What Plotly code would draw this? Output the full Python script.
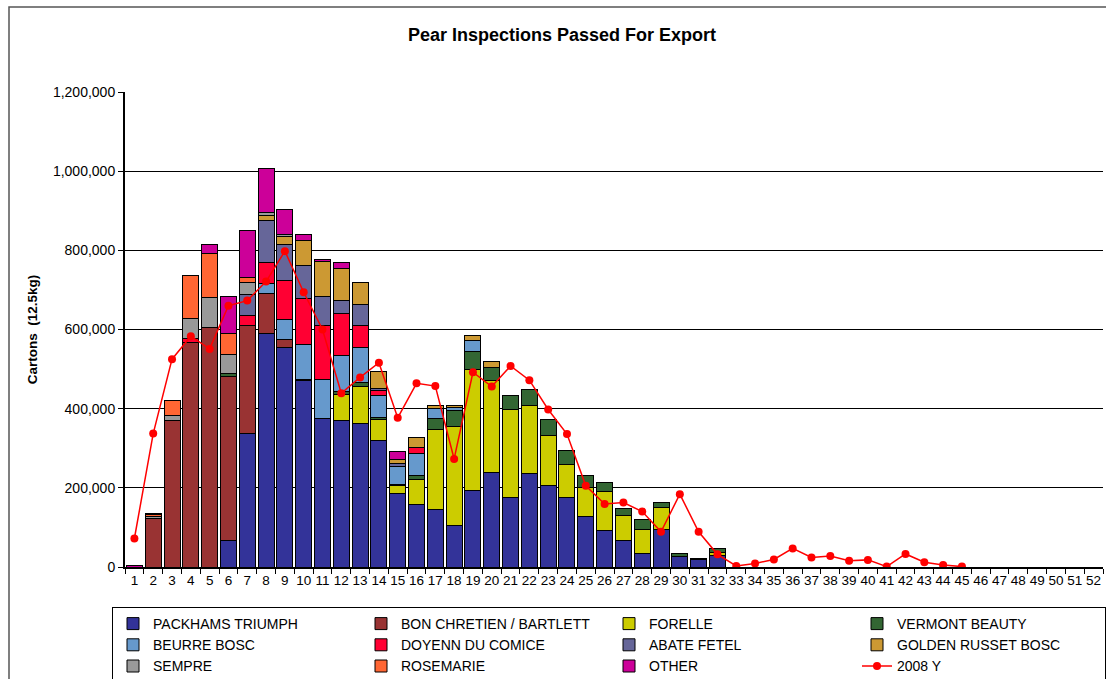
import plotly.graph_objects as go

weeks = [str(i) for i in range(1, 53)]

def pad(vals):
    return vals + [0] * (52 - len(vals))

# values for weeks 1..32 (zero afterwards)
packhams = pad([0, 0, 0, 0, 0, 68000, 338000, 590000, 555000, 471000, 376000, 369000, 363000, 319000, 185000, 158000,
                146000, 106000, 193000, 239000, 176000, 237000, 207000, 176000, 127000, 91000, 68000, 33000, 96000, 26000, 19000, 29000])
bon_chretien = pad([0, 123000, 370000, 567000, 605000, 414000, 273000, 101000, 20000, 3000])
forelle = pad([0, 0, 0, 0, 0, 0, 0, 0, 0, 0, 0, 66000, 92000, 54000, 20000, 63000,
               202000, 248000, 306000, 233000, 222000, 170000, 126000, 84000, 73000, 101000, 63000, 63000, 55000, 0, 0, 7500])
vermont = pad([0, 0, 0, 0, 0, 6000, 0, 0, 0, 0, 0, 8000, 10000, 5000, 3000, 11000,
               28000, 42000, 46000, 31000, 35000, 41000, 40000, 34000, 31000, 21000, 18000, 24500, 12500, 7000, 3000, 11000])
beurre_bosc = pad([0, 0, 0, 0, 0, 0, 0, 25000, 51000, 88000, 98000, 91000, 89000, 56000, 47000, 56000, 25000, 7000, 26000])
doyenn = pad([0, 0, 0, 11000, 0, 0, 24500, 53000, 97000, 116000, 136000, 107000, 56000, 12000, 0, 13000])
abate = pad([0, 0, 0, 0, 0, 0, 52000, 107000, 93000, 83000, 74000, 32000, 53000, 4000, 6000])
golden = pad([0, 0, 0, 0, 0, 0, 0, 12600, 20000, 64000, 87000, 82000, 56000, 45000, 10000, 25000, 8000, 5000, 13000, 15000])
sempre = pad([0, 4000, 12000, 49000, 77000, 49000, 32000, 8000, 5000])
rosemarie = pad([0, 6000, 39000, 109000, 111000, 54000, 13000])
other = pad([5000, 2000, 0, 0, 22000, 93000, 117000, 110000, 62000, 14000, 7000, 15000, 0, 0, 21000])

y2008 = [72000, 337000, 525000, 583000, 551000, 660000, 673000, 721000, 798000, 694000, 600000, 439000, 479000, 516000,
         377000, 464000, 457000, 273000, 492000, 456000, 508000, 472000, 398000, 336000, 205000, 159000, 163000, 140000,
         89000, 184000, 89000, 32000, 2500, 9000, 19000, 47000, 24000, 28000, 16000, 18000, 1000, 33000, 12000, 5000, 1000]
y2008 = y2008 + [None] * (52 - len(y2008))

series = [
    ("PACKHAMS TRIUMPH", packhams, "#333399"),
    ("BON CHRETIEN / BARTLETT", bon_chretien, "#993333"),
    ("FORELLE", forelle, "#CCCC00"),
    ("VERMONT BEAUTY", vermont, "#336633"),
    ("BEURRE BOSC", beurre_bosc, "#6699CC"),
    ("DOYENN DU COMICE", doyenn, "#FF0033"),
    ("ABATE FETEL", abate, "#666699"),
    ("GOLDEN RUSSET BOSC", golden, "#CC9933"),
    ("SEMPRE", sempre, "#999999"),
    ("ROSEMARIE", rosemarie, "#FF6633"),
    ("OTHER", other, "#CC0099"),
]

FONT = "Liberation Sans, Arial, sans-serif"

fig = go.Figure()
for name, vals, col in series:
    fig.add_trace(go.Bar(x=weeks, y=vals, name=name, marker=dict(color=col, line=dict(color="black", width=1))))

fig.add_trace(go.Scatter(x=weeks, y=y2008, name="2008 Y", mode="lines+markers",
                         line=dict(color="#FF0000", width=1.5),
                         marker=dict(color="#FF0000", size=8), connectgaps=False))

W, H = 1106, 679
L, R, T = 125, 3, 92
B = H - 567
pw = W - L - R
ph = H - T - B

def sx(px):  # screen x -> paper x
    return (px - L) / pw

def sy(py):  # screen y -> paper y
    return (H - B - py) / ph

fig.update_layout(
    width=W, height=H,
    barmode="stack", bargap=0.15,
    margin=dict(l=L, r=R, t=T, b=B, autoexpand=False),
    paper_bgcolor="white", plot_bgcolor="white",
    font=dict(family=FONT, size=13, color="black"),
    title=dict(text="<b>Pear Inspections Passed For Export</b>", x=sx(562), xref="paper", xanchor="center",
               y=1 - 35 / H, yref="container", yanchor="middle", font=dict(size=18, family=FONT)),
    legend=dict(orientation="h", x=sx(112), xanchor="left", y=sy(607), yanchor="top",
                bordercolor="black", borderwidth=1, bgcolor="white",
                entrywidth=203, entrywidthmode="pixels", traceorder="normal",
                font=dict(size=14, family=FONT)),
    shapes=[dict(type="rect", xref="paper", yref="paper",
                 x0=sx(9), x1=sx(1120), y0=sy(700), y1=sy(7),
                 line=dict(color="#555555", width=1.5), layer="below")],
)

fig.update_xaxes(type="category", categoryorder="array", categoryarray=weeks, range=[-0.5, 51.5],
                 showline=True, linecolor="black", linewidth=2, ticks="outside", ticklen=5, tickcolor="black",
                 tickson="boundaries", showgrid=False, tickfont=dict(size=13.5), tickangle=0, automargin=False)
fig.update_yaxes(range=[0, 1200000], dtick=200000, tickformat=",", showline=True, linecolor="black", linewidth=2,
                 ticks="outside", ticklen=5, tickcolor="black", showgrid=True, gridcolor="black", gridwidth=1,
                 zeroline=False, tickfont=dict(size=14), automargin=False,
                 title=dict(text="<b>Cartons  (12.5kg)</b>", font=dict(size=13.5, family=FONT), standoff=12))

fig.write_html("out.html", config={"displayModeBar": False},
               post_script="document.body.style.margin='0';document.body.style.overflow='hidden';"
                           "document.documentElement.style.overflow='hidden';")
